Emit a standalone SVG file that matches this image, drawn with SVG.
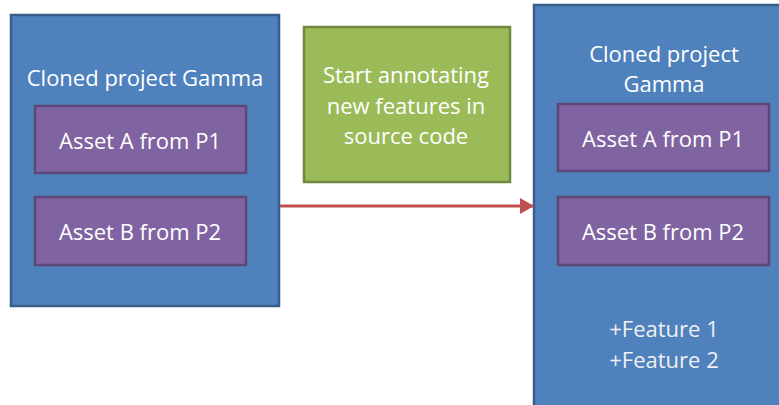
<svg xmlns="http://www.w3.org/2000/svg" width="779" height="405" viewBox="0 0 779 405">
  <style>
    .project { fill: #4F81BD; stroke: #385D8A; stroke-width: 2.5; }
    .asset { fill: #8064A2; stroke: #5C4776; stroke-width: 2.5; }
    .step { fill: #9BBB59; stroke: #71893F; stroke-width: 2.5; }
    text { font-family: "Open Sans", "Liberation Sans", sans-serif; font-size: 22px; fill: #FFFFFF; text-anchor: middle; }
    .feature { fill: #EEF0F2; }
    .link { stroke: #C0504D; stroke-width: 3; fill: none; }
  </style>
  <defs>
    <marker id="arrowhead" markerUnits="userSpaceOnUse" markerWidth="14" markerHeight="16" refX="13" refY="8" orient="auto">
      <path d="M0,0 L14,8 L0,16 Z" fill="#C0504D"/>
    </marker>
  </defs>

  <g id="project-gamma-left">
    <rect class="project" x="11" y="15" width="268" height="291"/>
    <text x="145" y="86">Cloned project Gamma</text>
  </g>
  <g id="asset-a-left">
    <rect class="asset" x="35" y="106" width="211" height="67"/>
    <text x="140" y="149">Asset A from P1</text>
  </g>
  <g id="asset-b-left">
    <rect class="asset" x="35" y="197" width="211" height="68"/>
    <text x="140" y="240">Asset B from P2</text>
  </g>

  <g id="annotate-step">
    <rect class="step" x="304" y="27" width="206" height="155"/>
    <text x="406" y="83">Start annotating</text>
    <text x="406" y="114">new features in</text>
    <text x="406" y="144">source code</text>
  </g>

  <g id="project-gamma-right">
    <rect class="project" x="534" y="5" width="262" height="410"/>
    <text x="664" y="62">Cloned project</text>
    <text x="664" y="92">Gamma</text>
    <text class="feature" x="664" y="337">+Feature 1</text>
    <text class="feature" x="664" y="368">+Feature 2</text>
  </g>
  <g id="asset-a-right">
    <rect class="asset" x="558" y="104" width="211" height="67"/>
    <text x="663" y="147">Asset A from P1</text>
  </g>
  <g id="asset-b-right">
    <rect class="asset" x="558" y="197" width="211" height="68"/>
    <text x="663" y="240">Asset B from P2</text>
  </g>

  <g id="connectors">
    <line class="link" x1="280" y1="206" x2="533" y2="206" marker-end="url(#arrowhead)"/>
  </g>
</svg>
